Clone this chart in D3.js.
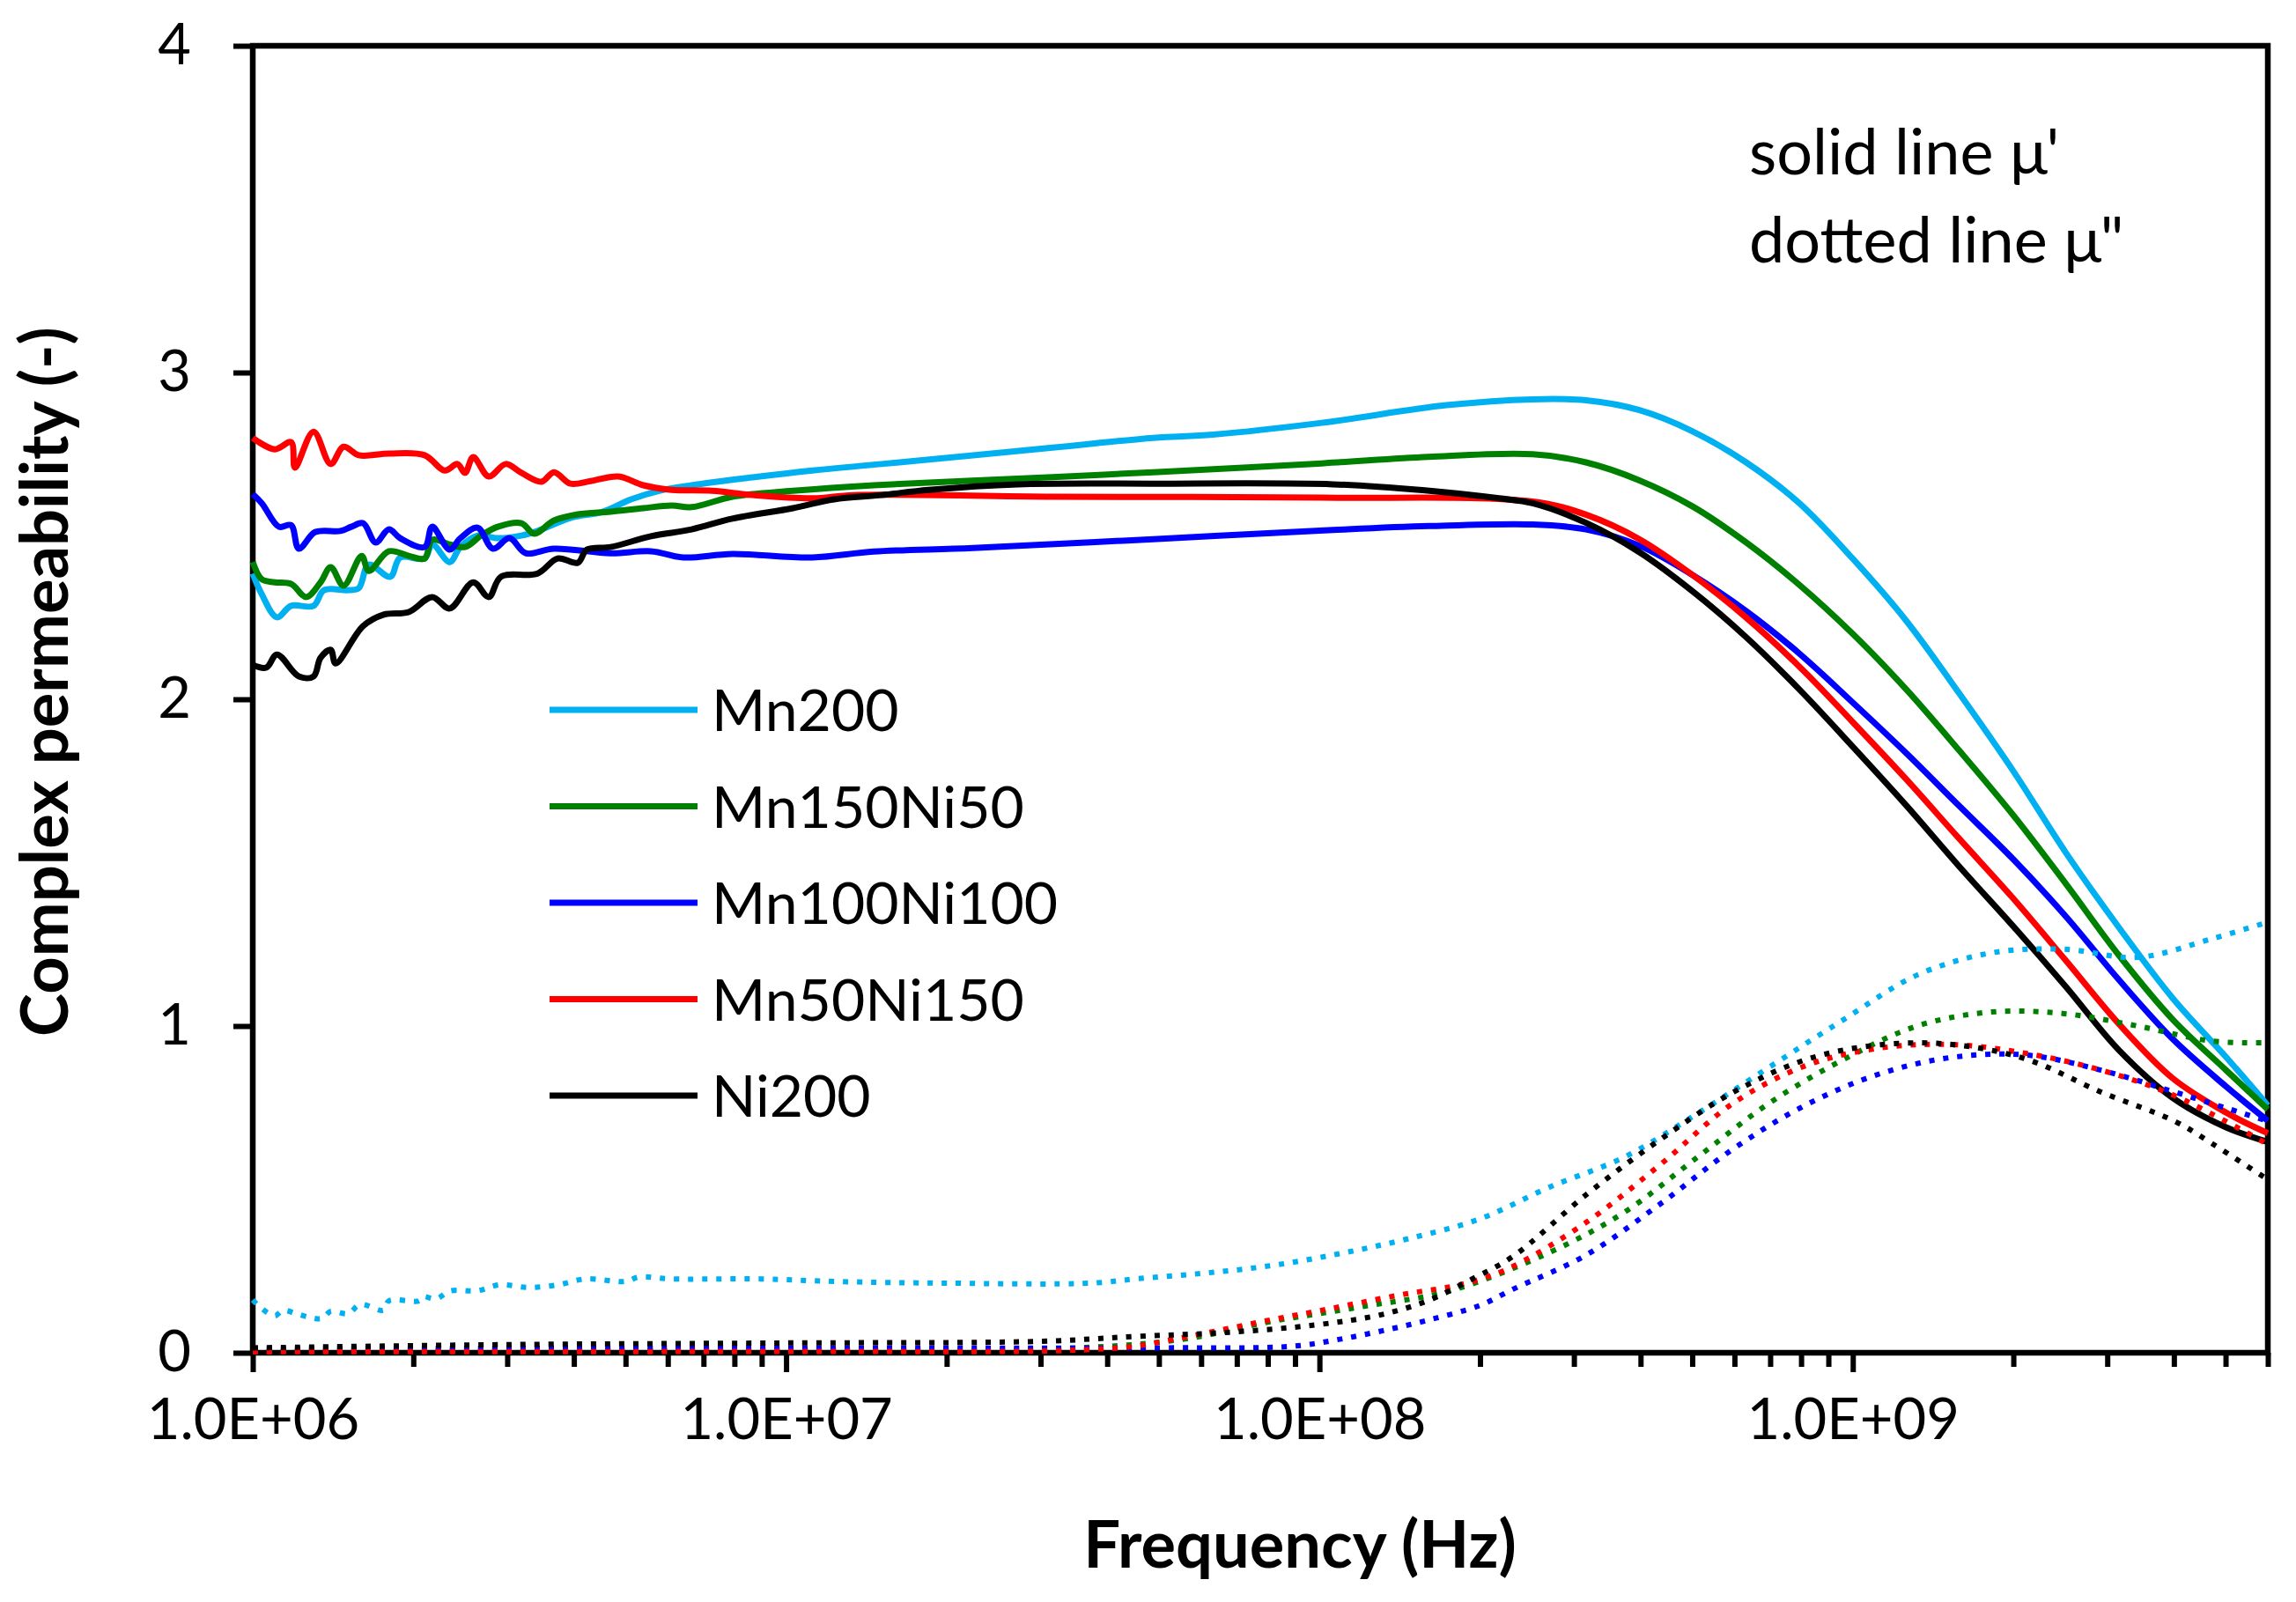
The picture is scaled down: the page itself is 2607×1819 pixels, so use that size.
<!DOCTYPE html>
<html>
<head>
<meta charset="utf-8">
<script src="https://cdn.jsdelivr.net/npm/d3@7"></script>
<style>
  body { margin: 0; background: #fff; }
  text { font-family: Lato, "Open Sans", sans-serif; fill: #000; }
</style>
</head>
<body>
<div id="chart"></div>
<script>
// series names and colours (legend order)
const names = ["Mn200", "Mn150Ni50", "Mn100Ni100", "Mn50Ni150", "Ni200"];
const colors = ["#00B0F0", "#008000", "#0000FF", "#FF0000", "#000000"];

// mu' (solid) : [frequency Hz, value]
const mn200Real = [
  [1.00e6,2.385],[1.04e6,2.321],[1.11e6,2.251],[1.18e6,2.286],[1.30e6,2.286],[1.36e6,2.334],
  [1.51e6,2.334],[1.58e6,2.34],[1.65e6,2.412],[1.81e6,2.375],[1.89e6,2.434],[2.10e6,2.431],
  [2.17e6,2.474],[2.34e6,2.42],[2.45e6,2.466],[2.64e6,2.501],[2.88e6,2.493],[3.19e6,2.501],
  [3.42e6,2.515],[3.94e6,2.555],[4.53e6,2.574],[5.12e6,2.612],[5.78e6,2.638],[6.65e6,2.655],
  [8.65e6,2.679],[1.12e7,2.70],[1.51e7,2.72],[3.16e7,2.77],[4.88e7,2.80],[6.31e7,2.81],
  [1.01e8,2.846],[1.73e8,2.90],[2.51e8,2.918],[3.16e8,2.915],[3.98e8,2.885],[5.01e8,2.82],
  [6.31e8,2.725],[7.94e8,2.60],[1.0e9,2.43],[1.26e9,2.24],[1.58e9,2.02],[2.0e9,1.78],
  [2.51e9,1.53],[3.16e9,1.30],[3.98e9,1.085],[5.01e9,0.905],[6.0e9,0.757]
];
const mn150Ni50Real = [
  [1.00e6,2.42],[1.04e6,2.367],[1.10e6,2.358],[1.18e6,2.353],[1.26e6,2.313],[1.34e6,2.358],
  [1.40e6,2.404],[1.48e6,2.348],[1.60e6,2.439],[1.65e6,2.393],[1.80e6,2.453],[1.96e6,2.439],
  [2.10e6,2.431],[2.17e6,2.488],[2.34e6,2.474],[2.50e6,2.466],[2.68e6,2.501],[2.88e6,2.528],
  [3.19e6,2.539],[3.37e6,2.507],[3.67e6,2.547],[4.07e6,2.566],[4.69e6,2.574],[5.40e6,2.585],
  [6.10e6,2.593],[6.65e6,2.588],[7.93e6,2.62],[1.03e7,2.638],[1.46e7,2.655],[3.16e7,2.68],
  [4.88e7,2.695],[1.01e8,2.722],[1.60e8,2.742],[2.51e8,2.75],[3.16e8,2.725],[3.98e8,2.67],
  [5.01e8,2.59],[6.31e8,2.48],[7.94e8,2.35],[1.0e9,2.20],[1.26e9,2.03],[1.58e9,1.845],
  [2.0e9,1.645],[2.51e9,1.435],[3.16e9,1.215],[3.98e9,1.02],[5.01e9,0.865],[6.0e9,0.745]
];
const mn100Ni100Real = [
  [1.00e6,2.628],[1.04e6,2.60],[1.12e6,2.528],[1.18e6,2.533],[1.22e6,2.461],[1.31e6,2.512],
  [1.46e6,2.515],[1.53e6,2.528],[1.61e6,2.539],[1.70e6,2.48],[1.80e6,2.52],[1.89e6,2.493],
  [2.10e6,2.466],[2.17e6,2.528],[2.34e6,2.458],[2.45e6,2.493],[2.64e6,2.525],[2.82e6,2.461],
  [3.03e6,2.493],[3.25e6,2.447],[3.67e6,2.461],[4.69e6,2.447],[5.58e6,2.453],[6.43e6,2.434],
  [7.93e6,2.445],[1.12e7,2.434],[1.46e7,2.452],[2.24e7,2.463],[4.88e7,2.49],[1.06e8,2.518],
  [1.60e8,2.53],[2.51e8,2.535],[3.16e8,2.52],[3.98e8,2.47],[5.01e8,2.38],[6.31e8,2.27],
  [7.94e8,2.14],[1.0e9,1.99],[1.26e9,1.835],[1.58e9,1.675],[2.0e9,1.51],[2.51e9,1.335],
  [3.16e9,1.14],[3.98e9,0.96],[5.01e9,0.815],[6.0e9,0.71]
];
const mn50Ni150Real = [
  [1.00e6,2.80],[1.10e6,2.765],[1.18e6,2.787],[1.20e6,2.709],[1.30e6,2.819],[1.40e6,2.72],
  [1.48e6,2.773],[1.58e6,2.747],[1.80e6,2.752],[2.10e6,2.747],[2.29e6,2.70],[2.42e6,2.72],
  [2.50e6,2.693],[2.59e6,2.741],[2.77e6,2.682],[2.98e6,2.72],[3.19e6,2.693],[3.48e6,2.666],
  [3.67e6,2.695],[3.94e6,2.66],[4.30e6,2.668],[4.85e6,2.682],[5.40e6,2.655],[6.10e6,2.641],
  [7.26e6,2.638],[8.65e6,2.625],[1.12e7,2.615],[1.34e7,2.625],[3.16e7,2.62],[1.01e8,2.617],
  [2.51e8,2.605],[3.16e8,2.565],[3.98e8,2.49],[5.01e8,2.38],[6.31e8,2.25],[7.94e8,2.10],
  [1.0e9,1.93],[1.26e9,1.755],[1.58e9,1.575],[2.0e9,1.39],[2.51e9,1.20],[3.16e9,1.005],
  [3.98e9,0.84],[5.01e9,0.735],[6.0e9,0.672]
];
const ni200Real = [
  [1.00e6,2.105],[1.06e6,2.097],[1.11e6,2.137],[1.22e6,2.07],[1.30e6,2.07],[1.34e6,2.127],
  [1.40e6,2.151],[1.43e6,2.11],[1.61e6,2.224],[1.76e6,2.259],[1.96e6,2.267],[2.17e6,2.313],
  [2.34e6,2.278],[2.59e6,2.358],[2.77e6,2.313],[2.92e6,2.375],[3.42e6,2.385],[3.73e6,2.431],
  [4.07e6,2.418],[4.23e6,2.458],[4.69e6,2.466],[5.58e6,2.499],[6.65e6,2.52],[7.93e6,2.553],
  [1.03e7,2.585],[1.23e7,2.612],[1.51e7,2.625],[1.85e7,2.641],[2.72e7,2.658],[4.88e7,2.66],
  [1.06e8,2.658],[1.56e8,2.64],[2.17e8,2.615],[2.51e8,2.60],[3.16e8,2.54],[3.98e8,2.45],
  [5.01e8,2.33],[6.31e8,2.19],[7.94e8,2.03],[1.0e9,1.855],[1.26e9,1.675],[1.58e9,1.49],
  [2.0e9,1.305],[2.51e9,1.12],[3.16e9,0.925],[3.98e9,0.78],[5.01e9,0.69],[6.0e9,0.645]
];

// mu'' (dotted) : [frequency Hz, value]
const mn200Imag = [
  [1.00e6,0.162],[1.04e6,0.135],[1.10e6,0.113],[1.14e6,0.13],[1.20e6,0.121],[1.28e6,0.108],
  [1.35e6,0.105],[1.40e6,0.127],[1.51e6,0.12],[1.59e6,0.148],[1.76e6,0.13],[1.80e6,0.159],
  [2.05e6,0.159],[2.08e6,0.172],[2.21e6,0.165],[2.34e6,0.189],[2.64e6,0.19],[2.90e6,0.208],
  [3.29e6,0.20],[3.74e6,0.208],[4.20e6,0.226],[5.00e6,0.218],[5.30e6,0.232],[6.07e6,0.226],
  [8.95e6,0.226],[1.25e7,0.218],[2.0e7,0.213],[3.72e7,0.213],[4.52e7,0.226],[6.03e7,0.243],
  [8.07e7,0.266],[1.08e8,0.302],[1.45e8,0.347],[2.00e8,0.41],[2.70e8,0.507],[3.72e8,0.598],
  [5.09e8,0.73],[7.00e8,0.876],[9.62e8,1.02],[1.32e9,1.156],[1.82e9,1.224],[2.49e9,1.235],
  [3.42e9,1.21],[4.71e9,1.267],[6.0e9,1.318]
];
const mn150Ni50Imag = [
  [1.00e6,0.005],[1.0e7,0.008],[3.16e7,0.012],[5.48e7,0.04],[8.07e7,0.095],[1.19e8,0.14],
  [1.76e8,0.19],[2.70e8,0.307],[3.72e8,0.429],[5.09e8,0.596],[7.00e8,0.766],[9.62e8,0.898],
  [1.32e9,1.0],[1.82e9,1.043],[2.49e9,1.038],[3.42e9,1.0],[4.71e9,0.954],[6.0e9,0.949]
];
const mn100Ni100Imag = [
  [1.00e6,0.012],[1.0e7,0.015],[5.0e7,0.015],[8.91e7,0.02],[1.08e8,0.04],[1.31e8,0.067],
  [1.60e8,0.10],[2.00e8,0.145],[2.31e8,0.195],[3.17e8,0.30],[4.35e8,0.455],[5.98e8,0.625],
  [8.20e8,0.76],[1.13e9,0.855],[1.55e9,0.905],[2.12e9,0.911],[2.92e9,0.865],[4.01e9,0.798],
  [6.0e9,0.709]
];
const mn50Ni150Imag = [
  [1.00e6,0.003],[1.0e7,0.004],[3.0e7,0.005],[3.72e7,0.01],[4.52e7,0.02],[5.48e7,0.045],
  [6.65e7,0.072],[8.07e7,0.10],[9.82e7,0.126],[1.19e8,0.153],[1.45e8,0.18],[1.76e8,0.202],
  [2.00e8,0.225],[2.31e8,0.265],[3.17e8,0.40],[4.35e8,0.575],[5.98e8,0.765],[8.20e8,0.88],
  [1.13e9,0.933],[1.55e9,0.943],[2.12e9,0.916],[2.92e9,0.865],[4.01e9,0.787],[6.0e9,0.638]
];
const ni200Imag = [
  [1.00e6,0.015],[3.0e6,0.025],[1.0e7,0.03],[3.0e7,0.035],[4.52e7,0.05],[6.65e7,0.062],
  [9.82e7,0.085],[1.31e8,0.117],[1.60e8,0.16],[1.93e8,0.225],[2.31e8,0.296],[3.17e8,0.485],
  [4.35e8,0.652],[5.98e8,0.798],[8.20e8,0.898],[1.13e9,0.943],[1.55e9,0.943],[2.12e9,0.898],
  [2.92e9,0.798],[4.01e9,0.709],[4.71e9,0.641],[6.0e9,0.53]
];

const realSeries = [mn200Real, mn150Ni50Real, mn100Ni100Real, mn50Ni150Real, ni200Real];
const imagSeries = [mn200Imag, mn150Ni50Imag, mn100Ni100Imag, mn50Ni150Imag, ni200Imag];

const xTicks = [1e6, 1e7, 1e8, 1e9];
const xTickLabels = ["1.0E+06", "1.0E+07", "1.0E+08", "1.0E+09"];
const yTicks = [0, 1, 2, 3, 4];
const notes = ["solid line \u03bc'", "dotted line \u03bc\""];

const width = 2607, height = 1819;
const plotLeft = 287, plotRight = 2575, plotTop = 52, plotBottom = 1536;

const svg = d3.select("#chart")
  .append("svg")
  .attr("width", width)
  .attr("height", height);

const x = d3.scaleLog().domain([1e6, 6e9]).range([plotLeft, plotRight]);
const y = d3.scaleLinear().domain([0, 4]).range([plotBottom, plotTop]);

// minor log ticks
const minor = svg.append("g")
  .attr("transform", `translate(0,${plotBottom})`)
  .call(d3.axisBottom(x)
    .tickValues(x.ticks().filter(d => !xTicks.includes(d)))
    .tickSize(16)
    .tickFormat(""));

// major x ticks + labels
const xAxis = svg.append("g")
  .attr("transform", `translate(0,${plotBottom})`)
  .call(d3.axisBottom(x)
    .tickValues(xTicks)
    .tickSize(22)
    .tickPadding(30)
    .tickFormat((d, i) => xTickLabels[i]));

const yAxis = svg.append("g")
  .attr("transform", `translate(${plotLeft},0)`)
  .call(d3.axisLeft(y)
    .tickValues(yTicks)
    .tickSize(22)
    .tickPadding(48)
    .tickFormat(d3.format("d")));

[minor, xAxis, yAxis].forEach(g => {
  g.select(".domain").remove();
  g.selectAll(".tick line").attr("stroke", "#000").attr("stroke-width", 6);
});
xAxis.selectAll("text").attr("font-size", 65).attr("fill", "#000");
yAxis.selectAll("text").attr("font-size", 65).attr("fill", "#000");

// plot frame
svg.append("rect")
  .attr("x", plotLeft)
  .attr("y", plotTop)
  .attr("width", plotRight - plotLeft)
  .attr("height", plotBottom - plotTop)
  .attr("fill", "none")
  .attr("stroke", "#000")
  .attr("stroke-width", 6.5);

const line = d3.line()
  .x(d => x(d[0]))
  .y(d => y(d[1]))
  .curve(d3.curveCatmullRom.alpha(0.5));

svg.append("g")
  .selectAll("path")
  .data(realSeries)
  .enter().append("path")
  .attr("d", line)
  .attr("fill", "none")
  .attr("stroke", (d, i) => colors[i])
  .attr("stroke-width", 7);

svg.append("g")
  .selectAll("path")
  .data(imagSeries)
  .enter().append("path")
  .attr("d", line)
  .attr("fill", "none")
  .attr("stroke", (d, i) => colors[i])
  .attr("stroke-width", 6)
  .attr("stroke-dasharray", "6 10");

// legend
const legend = svg.append("g")
  .selectAll("g")
  .data(names)
  .enter().append("g")
  .attr("transform", (d, i) => `translate(624,${806 + i * 109.5})`);

legend.append("line")
  .attr("x1", 0).attr("x2", 168)
  .attr("stroke", (d, i) => colors[i])
  .attr("stroke-width", 7);

legend.append("text")
  .attr("x", 184)
  .attr("y", 24)
  .attr("font-size", 66)
  .text(d => d);

// annotation
svg.append("g")
  .selectAll("text")
  .data(notes)
  .enter().append("text")
  .attr("x", 1986)
  .attr("y", (d, i) => 198 + i * 100)
  .attr("font-size", 72)
  .text(d => d);

// axis titles
svg.append("text")
  .attr("x", 1476)
  .attr("y", 1780)
  .attr("text-anchor", "middle")
  .attr("font-size", 74)
  .attr("font-weight", "bold")
  .text("Frequency (Hz)");

svg.append("text")
  .attr("transform", "translate(77,774) rotate(-90)")
  .attr("text-anchor", "middle")
  .attr("font-size", 74)
  .attr("font-weight", "bold")
  .text("Complex permeability (-)");
</script>
</body>
</html>
